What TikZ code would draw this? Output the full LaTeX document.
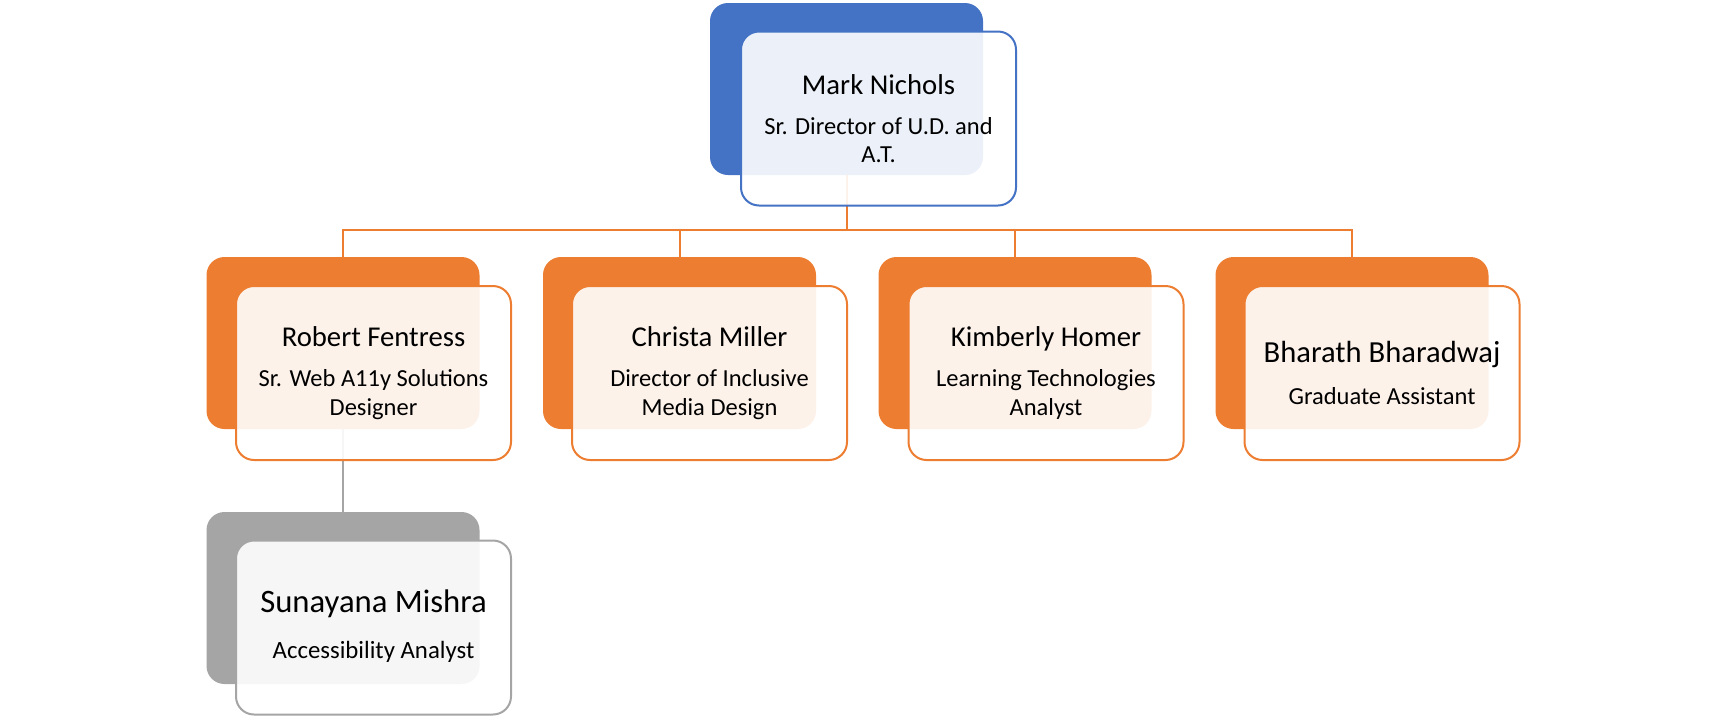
\documentclass[tikz,border=0pt]{standalone}
\usepackage{fontspec}
\setmainfont{Carlito}
\definecolor{blueC}{HTML}{4472C4}
\definecolor{orangeC}{HTML}{ED7D31}
\definecolor{grayC}{HTML}{A5A5A5}
\begin{document}
\begin{tikzpicture}[x=1pt,y=-1pt,
  back/.style={rectangle, rounded corners=18pt, minimum width=273pt, minimum height=172pt, inner sep=0pt, fill=#1},
  front/.style={rectangle, rounded corners=18pt, minimum width=275pt, minimum height=174pt, inner sep=0pt, draw=#1, line width=2pt, fill=white, fill opacity=0.9},
  txt/.style={align=center, text=black, inner sep=0pt, font=\fontsize{24.5}{28.5}\selectfont},
  conn/.style={line width=2pt, draw=orangeC},
  gconn/.style={line width=2pt, draw=grayC}]
\useasboundingbox (0,0) rectangle (1727,716);

% back boxes
\node[back=blueC]   (mb) at (846.5,89) {};
\node[back=orangeC] (rb) at (343,343) {};
\node[back=orangeC] (cb) at (679.5,343) {};
\node[back=orangeC] (kb) at (1015,343) {};
\node[back=orangeC] (bb) at (1352,343) {};
\node[back=grayC]   (sb) at (343,598) {};

% connectors
\coordinate (bar) at (mb.south |- 0,230);
\draw[conn] (mb.south) -- (bar);
\draw[conn] (bar) -| (rb.north);
\draw[conn] (bar) -| (cb.north);
\draw[conn] (bar) -| (kb.north);
\draw[conn] (bar) -| (bb.north);
\draw[gconn] (rb.south) -- (sb.north);

% front boxes
\node[front=blueC]   (mf) at (878.5,118.5) {};
\node[front=orangeC] (rf) at (373.5,373) {};
\node[front=orangeC] (cf) at (709.5,373) {};
\node[front=orangeC] (kf) at (1046,373) {};
\node[front=orangeC] (bf) at (1382,373) {};
\node[front=grayC]   (sf) at (373.5,627.5) {};

% texts
\node[txt] (mt) at (mf.center) {{\fontsize{28.7}{34}\selectfont Mark Nichols}\\[11.5pt]Sr. Director of U.D. and\\A.T.};
\node[txt] (rt) at (rf.center) {{\fontsize{28.7}{34}\selectfont Robert Fentress}\\[11.5pt]Sr. Web A11y Solutions\\Designer};
\node[txt] (ct) at (cf.center) {{\fontsize{28.7}{34}\selectfont Christa Miller}\\[11.5pt]Director of Inclusive\\Media Design};
\node[txt] (kt) at (kf.center) {{\fontsize{28.7}{34}\selectfont Kimberly Homer}\\[11.5pt]Learning Technologies\\Analyst};
\node[txt] (bt) at (bf.center) {{\fontsize{30.6}{36}\selectfont Bharath Bharadwaj}\\[13pt]Graduate Assistant};
\node[txt] (st) at ([yshift=1.5pt]sf.center) {{\fontsize{32.7}{38}\selectfont Sunayana Mishra}\\[18pt]{\fontsize{24.8}{29}\selectfont Accessibility Analyst}};
\end{tikzpicture}
\end{document}
